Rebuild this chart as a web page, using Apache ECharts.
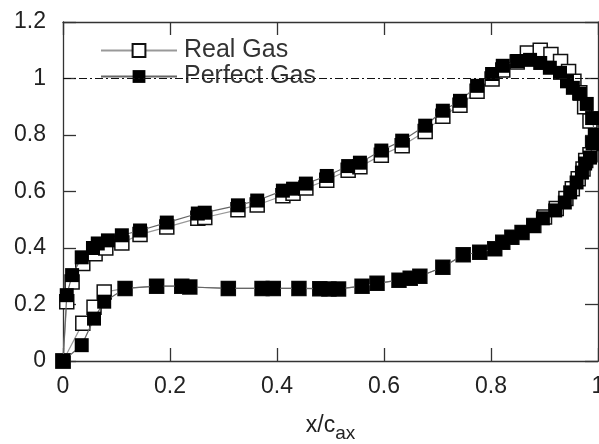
<!DOCTYPE html>
<html><head><meta charset="utf-8">
<script src="https://cdn.jsdelivr.net/npm/echarts@6/dist/echarts.min.js"></script>
<style>html,body{margin:0;padding:0;background:#fff}#c{width:599px;height:444px}</style>
</head><body><div id="c"></div>
<script>
// Tick labels
const xTicks = [0, 0.2, 0.4, 0.6, 0.8, 1];
const yTicks = [0, 0.2, 0.4, 0.6, 0.8, 1, 1.2];
const refLine = [[0, 1], [1, 1]];

// Perfect gas: suction side (LE -> TE), pressure side (TE -> LE)
const perfectSuction = [[0,0],[0.007,0.233],[0.017,0.304],[0.035,0.367],[0.056,0.40],[0.065,0.416],[0.084,0.427],[0.11,0.445],[0.144,0.462],[0.194,0.49],[0.252,0.522],[0.265,0.525],[0.327,0.551],[0.363,0.568],[0.411,0.603],[0.43,0.61],[0.454,0.628],[0.493,0.655],[0.533,0.69],[0.555,0.702],[0.595,0.745],[0.634,0.78],[0.677,0.833],[0.71,0.886],[0.742,0.921],[0.774,0.974],[0.802,1.016],[0.822,1.045],[0.849,1.062],[0.873,1.066],[0.892,1.055],[0.91,1.038],[0.929,1.02],[0.942,0.99],[0.953,0.967],[0.966,0.946],[0.979,0.91],[0.989,0.86],[0.994,0.80],[0.99,0.77]];
const perfectPressure = [[0.985,0.72],[0.976,0.699],[0.97,0.667],[0.96,0.632],[0.948,0.597],[0.938,0.561],[0.92,0.533],[0.897,0.505],[0.879,0.478],[0.858,0.455],[0.839,0.438],[0.822,0.42],[0.807,0.397],[0.779,0.385],[0.748,0.376],[0.71,0.332],[0.667,0.30],[0.649,0.293],[0.628,0.286],[0.587,0.275],[0.559,0.265],[0.515,0.255],[0.497,0.255],[0.48,0.256],[0.441,0.257],[0.393,0.257],[0.372,0.257],[0.309,0.257],[0.237,0.262],[0.222,0.265],[0.175,0.265],[0.116,0.257],[0.077,0.21],[0.058,0.15],[0.035,0.056],[0,0]];

// Real gas
const realSuction = [[0,0],[0.007,0.21],[0.017,0.28],[0.037,0.345],[0.06,0.38],[0.08,0.40],[0.11,0.418],[0.144,0.448],[0.194,0.474],[0.252,0.505],[0.265,0.508],[0.327,0.535],[0.363,0.552],[0.411,0.585],[0.43,0.594],[0.454,0.612],[0.493,0.64],[0.533,0.675],[0.555,0.688],[0.595,0.728],[0.634,0.762],[0.677,0.812],[0.71,0.866],[0.742,0.905],[0.774,0.955],[0.802,0.998],[0.822,1.03],[0.849,1.058],[0.868,1.09],[0.892,1.1],[0.912,1.085],[0.93,1.06],[0.945,1.025],[0.955,0.99],[0.966,0.95],[0.975,0.9],[0.985,0.85],[0.99,0.77]];
const realPressure = [[0.985,0.73],[0.977,0.71],[0.972,0.68],[0.963,0.645],[0.952,0.61],[0.94,0.575],[0.922,0.54],[0.9,0.51],[0.88,0.48],[0.858,0.455],[0.839,0.438],[0.822,0.42],[0.807,0.397],[0.779,0.385],[0.748,0.376],[0.71,0.332],[0.667,0.30],[0.649,0.293],[0.628,0.286],[0.587,0.275],[0.559,0.265],[0.515,0.255],[0.497,0.255],[0.48,0.256],[0.441,0.257],[0.393,0.257],[0.372,0.257],[0.309,0.257],[0.237,0.262],[0.222,0.265],[0.175,0.265],[0.116,0.257],[0.077,0.244],[0.058,0.19],[0.037,0.134],[0,0]];

const perfectData = perfectSuction.concat(perfectPressure);
const realData = realSuction.concat(realPressure);

const chart = echarts.init(document.getElementById('c'), null, {renderer: 'canvas'});
const axisCol = '#333';
const FF = 'Liberation Sans, Arial, sans-serif';
const labelFont = {fontFamily: FF, fontSize: 23, color: '#222'};
function axBase(show) {
  return {
    type: 'value', min: 0,
    axisLine: {show: true, onZero: false, lineStyle: {color: axisCol, width: 1.3}},
    axisTick: {show: true, inside: true, length: 13, lineStyle: {color: axisCol, width: 1.3}},
    splitLine: {show: false},
    axisLabel: show ? Object.assign({}, labelFont) : {show: false}
  };
}
const xMain = Object.assign(axBase(true), {max: 1, interval: 0.2, position: 'bottom',
  name: 'x/c{sub|ax}', nameLocation: 'middle', nameGap: 47,
  nameTextStyle: {fontFamily: FF, fontSize: 23, color: '#222',
    rich: {sub: {fontFamily: FF, fontSize: 19, color: '#222', verticalAlign: 'bottom', padding: [16, 0, 0, 0]}}}});
xMain.axisLabel.margin = 14;
xMain.axisLabel.formatter = v => xTicks.includes(+v.toFixed(1)) ? String(+v.toFixed(1)) : '';
const xTop = Object.assign(axBase(false), {max: 1, interval: 0.2, position: 'top'});
const yMain = Object.assign(axBase(true), {max: 1.2, interval: 0.2, position: 'left'});
yMain.axisLabel.margin = 17;
yMain.axisLabel.formatter = v => yTicks.includes(+v.toFixed(1)) ? String(+v.toFixed(1)) : '';
const yRight = Object.assign(axBase(false), {max: 1.2, interval: 0.2, position: 'right'});

chart.setOption({
  animation: false,
  backgroundColor: '#fff',
  grid: {left: 63, right: 1, top: 22, bottom: 83, containLabel: false, outerBoundsMode: 'none'},
  legend: {
    orient: 'vertical', left: 95, top: 33, itemWidth: 76, itemHeight: 16, itemGap: 1,
    textStyle: {fontFamily: FF, fontSize: 25, color: '#333', padding: [0, 0, 0, 2]},
    data: ['Real Gas', 'Perfect Gas']
  },
  xAxis: [xMain, xTop],
  yAxis: [yMain, yRight],
  series: [
    {name: 'Real Gas', type: 'line', data: realData, symbol: 'rect', symbolSize: 14,
      lineStyle: {color: '#999', width: 1.2}, itemStyle: {color: '#fff', borderColor: '#111', borderWidth: 1.5}, z: 2},
    {name: 'Perfect Gas', type: 'line', data: perfectData, symbol: 'rect', symbolSize: 14,
      lineStyle: {color: '#666', width: 1.2}, itemStyle: {color: '#000', borderColor: '#000', borderWidth: 0}, z: 3},
    {name: 'ref', type: 'line', data: refLine, symbol: 'none', silent: true,
      lineStyle: {color: '#111', width: 1.1, type: [8, 3, 2, 3]}, z: 4}
  ]
});
</script></body></html>
